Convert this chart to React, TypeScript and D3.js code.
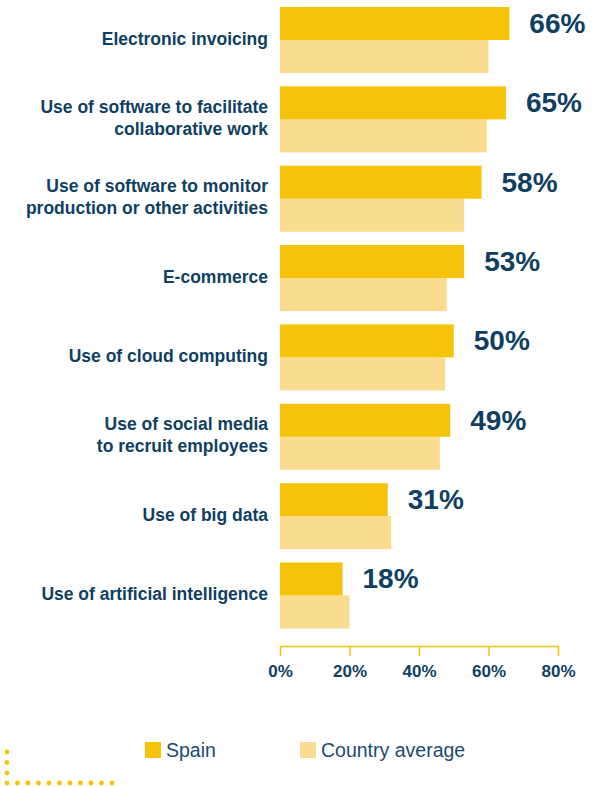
import React, { useEffect, useRef } from "react";
import * as d3 from "d3";

const categories = [
  ["Electronic invoicing"],
  ["Use of software to facilitate", "collaborative work"],
  ["Use of software to monitor", "production or other activities"],
  ["E-commerce"],
  ["Use of cloud computing"],
  ["Use of social media", "to recruit employees"],
  ["Use of big data"],
  ["Use of artificial intelligence"],
];
const spain = [66, 65, 58, 53, 50, 49, 31, 18];
const countryAverage = [60, 59.5, 53, 48, 47.5, 46, 32, 20];
const xTicks = [0, 20, 40, 60, 80];
const seriesNames = ["Spain", "Country average"];

const W = 607;
const H = 787;
const NAVY = "#0f3f62";
const YELLOW = "#f5c30a";
const LIGHT = "#f9dc8f";
const FONT = "'Liberation Sans', Arial, sans-serif";

const x = d3.scaleLinear().domain([0, 80]).range([280, 558]);
const y = d3
  .scaleBand<number>()
  .domain(d3.range(categories.length))
  .range([7, 628.5])
  .paddingInner(0.168)
  .paddingOuter(0);
const inner = d3.scaleBand<string>().domain(seriesNames).range([0, y.bandwidth()]);
const color = d3.scaleOrdinal<string, string>().domain(seriesNames).range([YELLOW, LIGHT]);

export default function App() {
  const axisRef = useRef<SVGGElement>(null);

  useEffect(() => {
    const g = d3.select(axisRef.current);
    g.selectAll("*").remove();
    g.call(
      d3
        .axisBottom(x)
        .tickValues(xTicks)
        .tickSizeInner(10)
        .tickSizeOuter(0)
        .tickPadding(9)
        .tickFormat((d) => `${d}%`)
    );
    g.select(".domain").attr("stroke", YELLOW).attr("stroke-width", 1.5);
    g.selectAll(".tick line").attr("stroke", YELLOW).attr("stroke-width", 1.5);
    g.selectAll(".tick text")
      .attr("fill", NAVY)
      .attr("font-size", 17)
      .attr("font-weight", "bold")
      .attr("font-family", FONT);
  }, []);

  return (
    <svg width={W} height={H} style={{ position: "absolute", left: 0, top: 0 }} fontFamily={FONT}>
      {categories.map((lines, i) => {
        const y0 = y(i)!;
        const cy = y0 + y.bandwidth() / 2;
        const wSpain = x(spain[i]) - x(0);
        const wAvg = x(countryAverage[i]) - x(0);
        return (
          <g key={i}>
            <text textAnchor="end" fill={NAVY} fontSize={17.5} fontWeight="bold">
              {lines.map((l, j) => (
                <tspan key={j} x={268} y={cy + 4.5 + (j - (lines.length - 1) / 2) * 22}>
                  {l}
                </tspan>
              ))}
            </text>
            <rect
              x={x(0)}
              y={y0 + inner("Country average")!}
              width={wAvg}
              height={inner.bandwidth()}
              fill={color("Country average")}
            />
            <rect
              x={x(0)}
              y={y0 + inner("Spain")!}
              width={wSpain}
              height={inner.bandwidth()}
              fill={color("Spain")}
            />
            <text
              x={x(spain[i]) + 20}
              y={y0 + 26}
              fill={NAVY}
              fontSize={28}
              fontWeight="bold"
            >
              {spain[i]}%
            </text>
          </g>
        );
      })}
      <g ref={axisRef} transform="translate(0,646)" />

      {seriesNames.map((name, i) => {
        const lx = i === 0 ? 145 : 300;
        return (
          <g key={name}>
            <rect x={lx} y={742} width={16} height={16} fill={color(name)} />
            <text x={lx + 21} y={756.5} fill="#1d4a70" fontSize={19.5}>
              {name}
            </text>
          </g>
        );
      })}

      {[752, 762.5, 773].map((cy) => (
        <circle key={`v${cy}`} cx={7} cy={cy} r={2.4} fill={YELLOW} />
      ))}
      {d3.range(11).map((k) => (
        <circle key={`h${k}`} cx={7 + k * 10.5} cy={783} r={2.4} fill={YELLOW} />
      ))}
    </svg>
  );
}
